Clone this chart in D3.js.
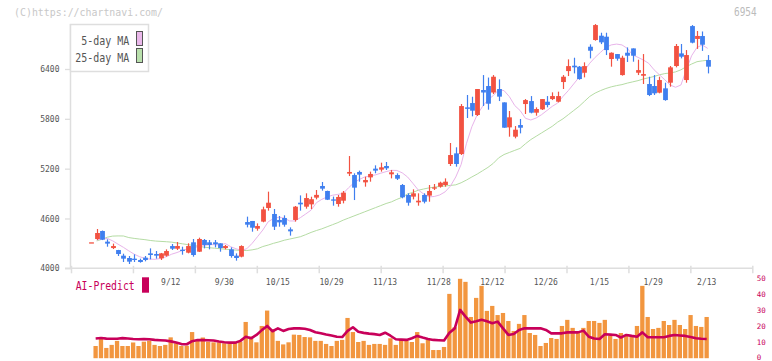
<!DOCTYPE html>
<html>
<head>
<meta charset="utf-8">
<script src="https://cdn.jsdelivr.net/npm/d3@7"></script>
<style>
  body { margin: 0; background: #fff; }
  svg { display: block; }
  text { font-family: "DejaVu Sans Mono", monospace; }
</style>
</head>
<body>
<svg id="chart" width="772" height="361"></svg>
<script>
// daily candles, index 0 = 8/22 ... index 115 = 2/13
const opens = [4313,4353,4449,4321,4244,4220,4152,4124,4116,4100,
  4128,4180,4172,4120,4152,4268,4236,4224,4188,4313,
  4200,4341,4313,4313,4301,4244,4228,4152,4140,4557,
  4570,4477,4562,4726,4654,4582,4606,4469,4582,4790,
  4742,4770,4851,4991,4931,4830,4774,4814,5140,5123,
  5160,5035,5095,5200,5188,5232,5132,5123,5003,4883,
  4863,4794,4883,4875,4963,4983,5003,5256,5384,5376,
  5938,5990,5846,6147,6195,6117,6159,5998,5697,5585,
  5725,5978,6014,5874,5914,6006,6038,6006,6243,6375,
  6440,6428,6355,6668,6749,6801,6789,6520,6580,6327,
  6596,6648,6355,6319,6219,6195,6115,6167,6235,6436,
  6588,6267,6917,6762,6797,6508];
const highs = [4313,4473,4455,4349,4297,4222,4176,4148,4168,4116,
  4148,4240,4208,4185,4228,4293,4317,4260,4301,4353,
  4369,4353,4341,4341,4301,4281,4252,4180,4277,4622,
  4570,4541,4742,4923,4714,4630,4638,4493,4750,4878,
  4903,4862,4943,5039,4935,4863,4883,4931,5352,5144,
  5176,5103,5164,5240,5272,5280,5184,5144,5015,4903,
  4951,4903,4903,5003,5015,5043,5083,5509,5457,5978,
  6087,6066,6159,6327,6297,6327,6275,5998,5894,5713,
  5798,6038,6074,5938,6038,6074,6119,6127,6327,6516,
  6536,6436,6480,6697,6941,6837,6837,6600,6580,6560,
  6660,6648,6512,6580,6307,6327,6307,6235,6436,6701,
  6701,6628,6929,6858,6852,6568];
const lows = [4313,4341,4340,4260,4232,4148,4076,4052,4076,4068,
  4084,4108,4116,4100,4140,4220,4220,4164,4180,4140,
  4196,4240,4228,4252,4200,4228,4128,4092,4132,4493,
  4441,4453,4554,4694,4461,4501,4501,4393,4562,4694,
  4718,4714,4830,4935,4822,4754,4742,4782,5111,4822,
  5043,4983,5043,5144,5164,5184,5083,5063,4843,4754,
  4830,4754,4782,4802,4943,4971,4983,5232,5224,5364,
  5810,5830,5834,5954,5910,6099,6014,5693,5585,5565,
  5625,5858,5866,5838,5906,5938,6026,5998,6159,6315,
  6347,6271,6299,6528,6741,6700,6568,6428,6500,6320,
  6484,6488,6327,6219,6074,6087,6107,6018,6187,6420,
  6528,6235,6709,6642,6618,6347];
const closes = [4313,4425,4345,4297,4268,4172,4116,4080,4100,4076,
  4100,4160,4152,4180,4208,4236,4268,4216,4268,4160,
  4353,4281,4281,4289,4244,4268,4148,4124,4268,4525,
  4489,4509,4710,4790,4501,4553,4525,4445,4742,4770,
  4846,4832,4884,4959,4826,4814,4859,4911,5160,4971,
  5128,5063,5136,5176,5216,5204,5156,5079,4855,4790,
  4903,4814,4802,4931,4975,5031,5043,5364,5256,5954,
  5920,5898,6159,6117,5982,6307,6067,5693,5818,5669,
  5693,6026,5874,5918,6038,5966,6074,6074,6307,6435,
  6420,6279,6435,6620,6929,6721,6628,6596,6524,6536,
  6560,6560,6387,6339,6087,6107,6267,6026,6420,6677,
  6548,6568,6717,6798,6692,6428];

// moving averages as drawn in the chart (no value on the first day)
const ma5 = [null,4341,4352,4360,4330,4290,4252,4210,4170,4140,4120,
  4110,4108,4120,4140,4170,4190,4215,4235,4250,4260,
  4275,4285,4285,4280,4298,4260,4235,4218,4235,4300,
  4380,4461,4560,4600,4614,4605,4570,4570,4610,4654,
  4700,4790,4830,4860,4880,4890,4903,4970,5030,5070,
  5100,5112,5125,5145,5164,5180,5178,5150,5100,5023,
  4943,4895,4860,4865,4883,4920,4990,5100,5250,5505,
  5705,5850,5950,6030,6080,6150,6140,6067,5960,5900,
  5806,5786,5810,5850,5900,5950,5990,6070,6140,6220,
  6300,6380,6470,6540,6600,6660,6690,6700,6690,6648,
  6570,6540,6508,6468,6390,6330,6270,6207,6180,6207,
  6388,6560,6660,6689,6648];
const ma25 = [null,4330,4350,4375,4388,4390,4389,4370,4360,4352,4345,
  4335,4328,4324,4320,4315,4305,4295,4285,4275,4265,
  4255,4248,4242,4236,4230,4224,4219,4215,4214,4222,
  4235,4262,4280,4301,4318,4338,4352,4366,4380,4405,
  4432,4455,4475,4500,4525,4550,4580,4605,4630,4655,
  4680,4705,4730,4755,4780,4800,4830,4855,4895,4915,
  4940,4955,4968,4978,4985,4992,4998,5005,5030,5063,
  5100,5135,5175,5215,5264,5330,5370,5395,5420,5444,
  5500,5550,5590,5630,5670,5710,5760,5800,5850,5900,
  5950,6010,6070,6110,6140,6165,6185,6200,6212,6230,
  6245,6260,6280,6295,6310,6330,6345,6352,6365,6390,
  6428,6460,6488,6498,6505];

// lower panel: volume bars and AI-Predict line
const volumes = [null,7.6,12,6.4,8.3,10.8,7.6,7.6,9.8,7.6,10.3,
  10.9,8.3,7.6,8.3,13,9.3,7.6,7.8,16.3,10.8,
  12.9,10.3,9.9,9.9,9.3,9.3,9.9,10.3,22.6,13.5,
  9.9,20.1,29.7,18,10.8,8.6,9.9,14.7,14.5,13.2,
  13,10.8,10.8,8.9,7.6,10.8,11.4,25.1,16.3,10.1,
  10.8,8.3,8.9,8.9,8.3,12.4,8.3,11.4,10.8,10.1,
  16.3,9.3,11.4,5.1,5.1,7,40.1,19.3,49.5,47.6,
  25.7,37.6,45.1,29.5,32.6,26.9,28.2,23.2,17,21.4,
  26.9,15.7,14.5,7.6,9.5,12.6,12,20.1,23.9,18.9,
  16.3,18.9,23.2,23.2,22,23.9,13.9,12,15.7,13.9,
  13.9,20.1,45.1,25.7,18.2,18.9,23.2,20.7,23.9,20.7,
  18.2,26.9,20.1,19.5,25.7];
const aiPredict = [null,12.3,12.6,12.2,12.1,12.1,12.5,12.3,12.0,11.8,12.0,
  11.8,11.4,11.2,11.0,10.5,9.8,8.8,8.7,10.6,11.3,
  11.3,11.2,11.0,10.4,9.9,9.7,9.7,10.8,13.4,12.4,
  14.5,17.5,20.1,16.8,18.6,17.0,18.2,18.6,18.6,18.4,
  17.6,16.2,15.5,14.8,14.2,13.4,13.2,17.0,19.3,16.5,
  15.8,15.3,15.0,14.5,15.9,14.0,11.8,11.6,11.4,12.4,
  13.9,12.9,12.0,11.4,11.2,11.0,15.9,18.6,30.1,25.9,
  22.2,23.0,23.9,23.0,21.8,22.8,18.6,14.5,15.1,17.6,
  18.6,18.6,18.6,18.6,17.6,15.5,15.5,15.5,16.1,16.1,
  16.1,17.2,13.4,12.3,12.0,14.9,14.7,14.5,12.9,14.5,
  13.9,13.4,16.1,13.1,13.1,13.1,13.1,13.9,14.5,14.2,
  13.9,13.2,12.4,12.1,12.0];

const dateLabels = ['9/12','9/30','10/15','10/29','11/13','11/28','12/12','12/26','1/15','1/29','2/13'];
const dateLabelIdx = [15,25,35,45,55,65,75,85,95,105,115];
const priceTicks = [4000,4600,5200,5800,6400];
const volTicks = [0,10,20,30,40,50];

const upColor = '#f25241', downColor = '#3f7fef';
const volColor = '#f2963f', aiColor = '#c8005a';
const axisColor = '#dedede';

const svg = d3.select('#chart');

// scales
const x = d3.scaleLinear().domain([0, opens.length - 1]).range([91.3, 707.7]);
const y = d3.scaleLinear().domain([4000, 6400]).range([268.3, 69]);
const yVol = d3.scaleLinear().domain([0, 50]).range([358.2, 278]);
const frameX = d3.scaleLinear().domain([0, 11]).range([71, 752.3]);

// watermark and code
svg.append('text')
  .attr('x', 14).attr('y', 15.5)
  .attr('font-size', 11).attr('fill', '#c8c8c8')
  .attr('textLength', 149).attr('lengthAdjust', 'spacingAndGlyphs')
  .text('(C)https://chartnavi.com/');
svg.append('text')
  .attr('x', 734).attr('y', 16)
  .attr('font-size', 12).attr('fill', '#bbb')
  .attr('textLength', 22.7).attr('lengthAdjust', 'spacingAndGlyphs')
  .text('6954');

// left price axis
const yAxis = svg.append('g')
  .attr('transform', 'translate(71,0)')
  .call(d3.axisLeft(y).tickValues(priceTicks).tickFormat(d3.format('d')).tickSize(6).tickPadding(5.5));
yAxis.select('.domain').remove();
yAxis.selectAll('.tick line').attr('stroke', axisColor).attr('stroke-width', 1.3);
yAxis.selectAll('.tick text')
  .attr('font-family', '"DejaVu Sans Mono", monospace')
  .attr('font-size', 8).attr('fill', '#555');

svg.append('line')
  .attr('x1', 70.5).attr('x2', 70.5).attr('y1', 24).attr('y2', 268.5)
  .attr('stroke', axisColor).attr('stroke-width', 1.5);

// bottom frame with evenly spaced ticks
const xAxis = svg.append('g')
  .attr('transform', 'translate(0,268.3)')
  .call(d3.axisBottom(frameX).ticks(11).tickSize(5).tickFormat(''));
xAxis.select('.domain').remove();
xAxis.selectAll('.tick line').attr('y1', -2.5).attr('stroke', axisColor).attr('stroke-width', 1.5);
svg.append('line')
  .attr('x1', 65).attr('x2', 752.5).attr('y1', 268.3).attr('y2', 268.3)
  .attr('stroke', axisColor).attr('stroke-width', 1.5);

svg.selectAll('.date-label')
  .data(dateLabels)
  .join('text')
  .attr('class', 'date-label')
  .attr('x', (d, i) => x(dateLabelIdx[i]) - 1)
  .attr('y', 285)
  .attr('text-anchor', 'middle')
  .attr('font-size', 8).attr('fill', '#555')
  .text(d => d);

// moving averages
const maLine = d3.line()
  .defined(d => d != null)
  .x((d, i) => x(i))
  .y(d => y(d));
svg.append('path')
  .attr('d', maLine(ma25))
  .attr('fill', 'none').attr('stroke', '#b5dca4').attr('stroke-width', 1);
svg.append('path')
  .attr('d', maLine(ma5))
  .attr('fill', 'none').attr('stroke', '#e8b4ea').attr('stroke-width', 1);

// candles
const candles = svg.append('g')
  .selectAll('g')
  .data(opens.map((o, i) => ({ i, o, h: highs[i], l: lows[i], c: closes[i] })))
  .join('g');
candles.append('line')
  .attr('x1', d => Math.round(x(d.i)) + 0.5)
  .attr('x2', d => Math.round(x(d.i)) + 0.5)
  .attr('y1', d => y(d.h))
  .attr('y2', d => y(d.l))
  .attr('stroke', d => d.c >= d.o ? upColor : downColor)
  .attr('stroke-width', 1.2);
candles.append('rect')
  .attr('x', d => Math.round(x(d.i)) + 0.5 - 2.4)
  .attr('width', 4.8)
  .attr('y', d => y(Math.max(d.o, d.c)))
  .attr('height', d => Math.max(1.3, Math.abs(y(d.o) - y(d.c))))
  .attr('fill', d => d.c >= d.o ? upColor : downColor);

// legend
svg.append('rect')
  .attr('x', 70.5).attr('y', 24.5).attr('width', 78).attr('height', 47)
  .attr('fill', '#fff').attr('stroke', axisColor).attr('stroke-width', 1.5);
const legendRows = [
  { label: '5-day MA', color: '#eab8ea', y: 31.5, w: 48 },
  { label: '25-day MA', color: '#b9e0ac', y: 48.5, w: 54 }
];
legendRows.forEach(r => {
  svg.append('text')
    .attr('x', 129.3).attr('y', r.y + 13)
    .attr('text-anchor', 'end')
    .attr('font-size', 12).attr('fill', '#555')
    .attr('textLength', r.w).attr('lengthAdjust', 'spacingAndGlyphs')
    .text(r.label);
  svg.append('rect')
    .attr('x', 136.5).attr('y', r.y).attr('width', 6).attr('height', 14)
    .attr('fill', r.color).attr('stroke', '#555').attr('stroke-width', 1);
});

// AI-Predict label
svg.append('text')
  .attr('x', 75.7).attr('y', 290)
  .attr('font-size', 12).attr('fill', aiColor)
  .attr('textLength', 59).attr('lengthAdjust', 'spacingAndGlyphs')
  .text('AI-Predict');
svg.append('rect')
  .attr('x', 142).attr('y', 277.3).attr('width', 7).attr('height', 15.4)
  .attr('fill', aiColor);

// volume bars
svg.append('g')
  .selectAll('rect')
  .data(volumes.map((v, i) => ({ i, v })).filter(d => d.v != null))
  .join('rect')
  .attr('x', d => x(d.i) - 3.2)
  .attr('width', 4.3)
  .attr('y', d => yVol(d.v))
  .attr('height', d => yVol(0) - yVol(d.v))
  .attr('fill', volColor);

// AI-Predict line
svg.append('path')
  .attr('d', d3.line()
    .defined(d => d != null)
    .x((d, i) => x(i) - 1)
    .y(d => yVol(d))(aiPredict))
  .attr('fill', 'none')
  .attr('stroke', aiColor)
  .attr('stroke-width', 2.6)
  .attr('stroke-linejoin', 'round');

// right volume axis labels
svg.selectAll('.vol-label')
  .data(volTicks)
  .join('text')
  .attr('class', 'vol-label')
  .attr('x', 756.7)
  .attr('y', d => Math.min(yVol(d) + 2.6, 359.5))
  .attr('font-size', 7.5).attr('fill', aiColor)
  .text(d => d);
</script>
</body>
</html>
